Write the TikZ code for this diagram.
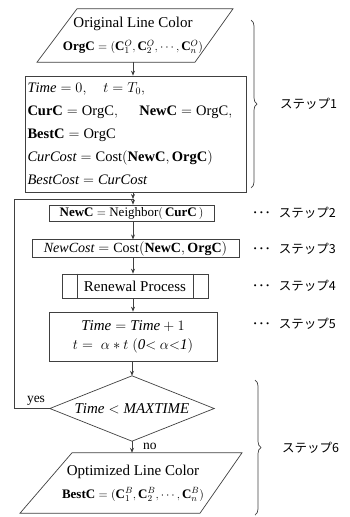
\documentclass[tikz,border=0pt]{standalone}
\usepackage{fontspec}
\setmainfont{Liberation Serif}
\newfontfamily\jpfont{Noto Sans CJK JP}
\usetikzlibrary{arrows.meta,decorations.pathreplacing,calc}
\begin{document}
\begin{tikzpicture}[x=1pt,y=-1pt,
  line/.style={draw=black!75, line width=0.7pt},
  arr/.style={line, -{Stealth[length=5pt,width=4pt]}},
  box/.style={line, rectangle, inner sep=1.5pt, font=\fontsize{15}{18}\selectfont, align=center},
  txt/.style={inner sep=0pt, font=\fontsize{15}{18}\selectfont, align=center},
  steplbl/.style={anchor=west, inner sep=0pt, font=\jpfont\fontsize{12.5}{14}\selectfont},
  brc/.style={line, decorate, decoration={brace, amplitude=6pt}}
]
\useasboundingbox (0,0) rectangle (350,517);

% input
\node[txt, minimum width=140, minimum height=53, font=\fontsize{15}{23}\selectfont] (in1) at (133,35.5)
  {Original Line Color\\ {\fontsize{13}{23}\selectfont$\mathbf{OrgC}=(\mathbf{C}_1^{O},\mathbf{C}_2^{O},\cdots,\mathbf{C}_n^{O})$}};
\draw[line] ([xshift=-56pt]in1.north) -- ([xshift=100pt]in1.north) -- ([xshift=62pt]in1.south) -- ([xshift=-96pt]in1.south) -- cycle;

% step 1
\node[box, minimum width=221, minimum height=116, text width=216, align=left, font=\fontsize{14.5}{23}\selectfont] (s1) at (135.5,134)
  {$\mathit{Time}=0,\quad t=T_0,$\\
   $\mathbf{CurC}=\mathrm{OrgC},\hspace{1.3em} \mathbf{NewC}=\mathrm{OrgC},$\\
   $\mathbf{BestC}=\mathrm{OrgC}$\\
   $\mathit{CurCost}=\mathrm{Cost}(\mathbf{NewC},\mathbf{OrgC})$\\
   $\mathit{BestCost}=\mathit{CurCost}$};

\coordinate (m) at (133,199);

\node[box, minimum width=165, minimum height=16, font=\fontsize{13}{15}\selectfont] (s2) at (131.5,213)
  {$\mathbf{NewC}=\mathrm{Neighbor}(\,\mathbf{CurC}\,)$};
\node[box, minimum width=207, minimum height=17, font=\fontsize{14}{16}\selectfont] (s3) at (135.5,248.5)
  {$\mathit{NewCost}=\mathrm{Cost}(\mathbf{NewC},\mathbf{OrgC})$};
\node[box, minimum width=146, minimum height=24] (s4) at (135,286) {Renewal Process};
\draw[line] ([xshift=16pt]s4.north west) -- ([xshift=16pt]s4.south west);
\draw[line] ([xshift=-15pt]s4.north east) -- ([xshift=-15pt]s4.south east);
\node[box, minimum width=168, minimum height=49, font=\fontsize{15}{19}\selectfont] (s5) at (133,336.5)
  {$\mathit{Time}=\mathit{Time}+1$\\ $t=\ \alpha * t\ (\mathit{0}{<}\ \alpha{<}\mathit{1})$};

% decision
\node[txt, minimum width=164, minimum height=65] (d) at (132,408.5) {$\mathit{Time}<\mathit{MAXTIME}$};
\draw[line] (d.north) -- (d.east) -- (d.south) -- (d.west) -- cycle;

% output
\node[txt, minimum width=140, minimum height=60, font=\fontsize{15}{23}\selectfont] (out) at (133,483)
  {Optimized Line Color\\ {\fontsize{13}{23}\selectfont$\mathbf{BestC}=(\mathbf{C}_1^{B},\mathbf{C}_2^{B},\cdots,\mathbf{C}_n^{B})$}};
\draw[line] ([xshift=-61pt]out.north) -- ([xshift=109pt]out.north) -- ([xshift=67pt]out.south) -- ([xshift=-113pt]out.south) -- cycle;

% connectors
\draw[arr] (in1.south) -- (in1.south |- s1.north);
\draw[arr] (s1.south -| m) -- (m);
\draw[arr] (m) -- (m |- s2.north);
\draw[arr] (s2.south -| m) -- (m |- s3.north);
\draw[arr] (s3.south -| m) -- (m |- s4.north);
\draw[arr] (s4.south -| m) -- (m |- s5.north);
\draw[arr] (s5.south -| d.north) -- (d.north);
\draw[arr] (d.south) -- (d.south |- out.north);
\draw[line] (d.west) -- (14,408.5) |- (m);
\node[txt, anchor=south, font=\fontsize{13.5}{15}\selectfont] (yes) at (36,406) {yes};
\node[txt, anchor=west, font=\fontsize{13.5}{15}\selectfont] (no) at (143,446) {no};

% braces and labels
\draw[brc] (251,20) -- (251,188);
\draw[brc] (255,380) -- (255,515);
\node[steplbl] (l1) at (280,104) {ステップ1};
\node[steplbl] (l2) at (252,213) {･･･\hspace{8pt}ステップ2};
\node[steplbl] (l3) at (252,249) {･･･\hspace{8pt}ステップ3};
\node[steplbl] (l4) at (252,286) {･･･\hspace{8pt}ステップ4};
\node[steplbl] (l5) at (252,324) {･･･\hspace{8pt}ステップ5};
\node[steplbl] (l6) at (282,448) {ステップ6};
\end{tikzpicture}
\end{document}
